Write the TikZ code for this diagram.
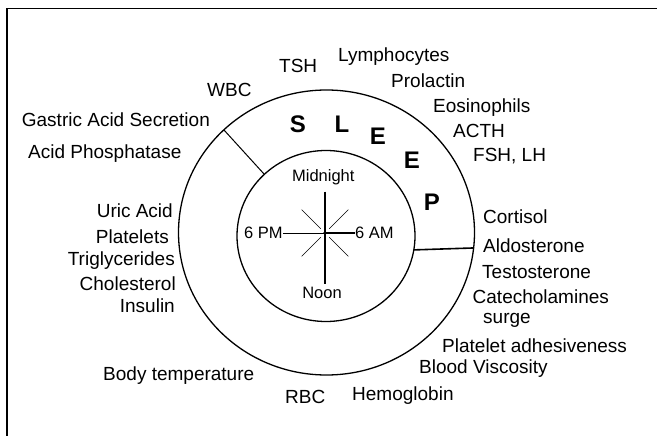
\documentclass[tikz,border=0pt]{standalone}
\usepackage{fontspec}
\setmainfont{Liberation Sans}
\usetikzlibrary{shapes.geometric}
\begin{document}
\begin{tikzpicture}[x=1pt,y=-1pt,
  lbl/.style={anchor=base west, inner sep=0pt, font=\fontsize{19}{22}\selectfont},
  lblr/.style={anchor=base east, inner sep=0pt, font=\fontsize{19}{22}\selectfont},
  clk/.style={anchor=base, inner sep=0pt, font=\fontsize{16.5}{19}\selectfont},
  clkw/.style={anchor=base west, inner sep=0pt, font=\fontsize{16.5}{19}\selectfont},
  slp/.style={inner sep=0pt, font=\fontsize{24}{28}\selectfont\bfseries},
  ring/.style={ellipse, draw, line width=1.3pt, inner sep=0pt, outer sep=0pt}]
\useasboundingbox (0,0) rectangle (657,436);
\fill[white] (0,0) rectangle (657,436);
% frame
\coordinate (ftr) at (657,8.5);
\coordinate (ftl) at (7,8.5);
\coordinate (fbl) at (7,436);
\draw[line width=1.4pt] (ftr) -- (ftl) -- (fbl);
% rings
\node[ring, minimum width=296pt, minimum height=285pt] (outer) at (326.5,232.5) {};
\node[ring, minimum width=178pt, minimum height=171pt] (inner) at (326,236) {};
\draw[line width=1pt] (outer.135) -- (inner.135);
\draw[line width=1.6pt] (inner.-9.06) -- (outer.-6.8);
% clock
\coordinate (c) at (325,233);
\coordinate (vt) at (325,191.5);
\coordinate (vb) at (325,283.5);
\node[clk] (mid) at (323.3,182) {Midnight};
\node[clk] (noon) at (322,298) {Noon};
\node[clkw] (pm) at (244,238) {6 PM};
\node[clkw] (am) at (355,238) {6 AM};
\draw[line width=1.3pt] (vt) -- (vb);
\draw[line width=0.7pt] (pm.east |- c) -- (c);
\draw[line width=1.6pt] (c) -- (am.west |- c);
\begin{scope}[shift={(c)}, line width=0.6pt]
  \foreach \a in {45,135,225,315} \draw (\a:6) -- (\a:33);
\end{scope}
\fill (c) circle (1.8pt);
% SLEEP
\node[slp] (s1) at (298,124) {S};
\node[slp] (s2) at (342,124) {L};
\node[slp] (s3) at (378,136) {E};
\node[slp] (s4) at (412,160) {E};
\node[slp] (s5) at (432,202) {P};
% labels top
\node[lbl] (tsh) at (279,73) {TSH};
\node[lbl] (lym) at (338,61.7) {Lymphocytes};
\node[lbl] (pro) at (391,88) {Prolactin};
\node[lbl] (wbc) at (207,97) {WBC};
\node[lbl] (eos) at (433,113) {Eosinophils};
\node[lbl] (acth) at (453,138) {ACTH};
\node[lbl] (fsh) at (473,161.7) {FSH, LH};
% labels left
\node[lbl] (gas) at (21.7,127) {Gastric Acid Secretion};
\node[lbl] (aph) at (28,158) {Acid Phosphatase};
\node[lblr] (uric) at (173,218) {Uric Acid};
\node[lblr] (plt) at (169,243) {Platelets};
\node[lblr] (tri) at (175,265) {Triglycerides};
\node[lblr] (cho) at (176,290) {Cholesterol};
\node[lblr] (ins) at (175,312) {Insulin};
% labels right
\node[lbl] (cor) at (483,223) {Cortisol};
\node[lbl] (ald) at (483,252) {Aldosterone};
\node[lbl] (tes) at (482,278) {Testosterone};
\node[lbl] (cat) at (472.5,303) {Catecholamines};
\node[lbl] (sur) at (483,323) {surge};
\node[lbl] (pad) at (442,352) {Platelet adhesiveness};
\node[lbl] (bv) at (419,373) {Blood Viscosity};
% labels bottom
\node[lbl] (hem) at (352,400) {Hemoglobin};
\node[lbl] (rbc) at (285,403) {RBC};
\node[lbl] (bt) at (103,380) {Body temperature};
\end{tikzpicture}
\end{document}
